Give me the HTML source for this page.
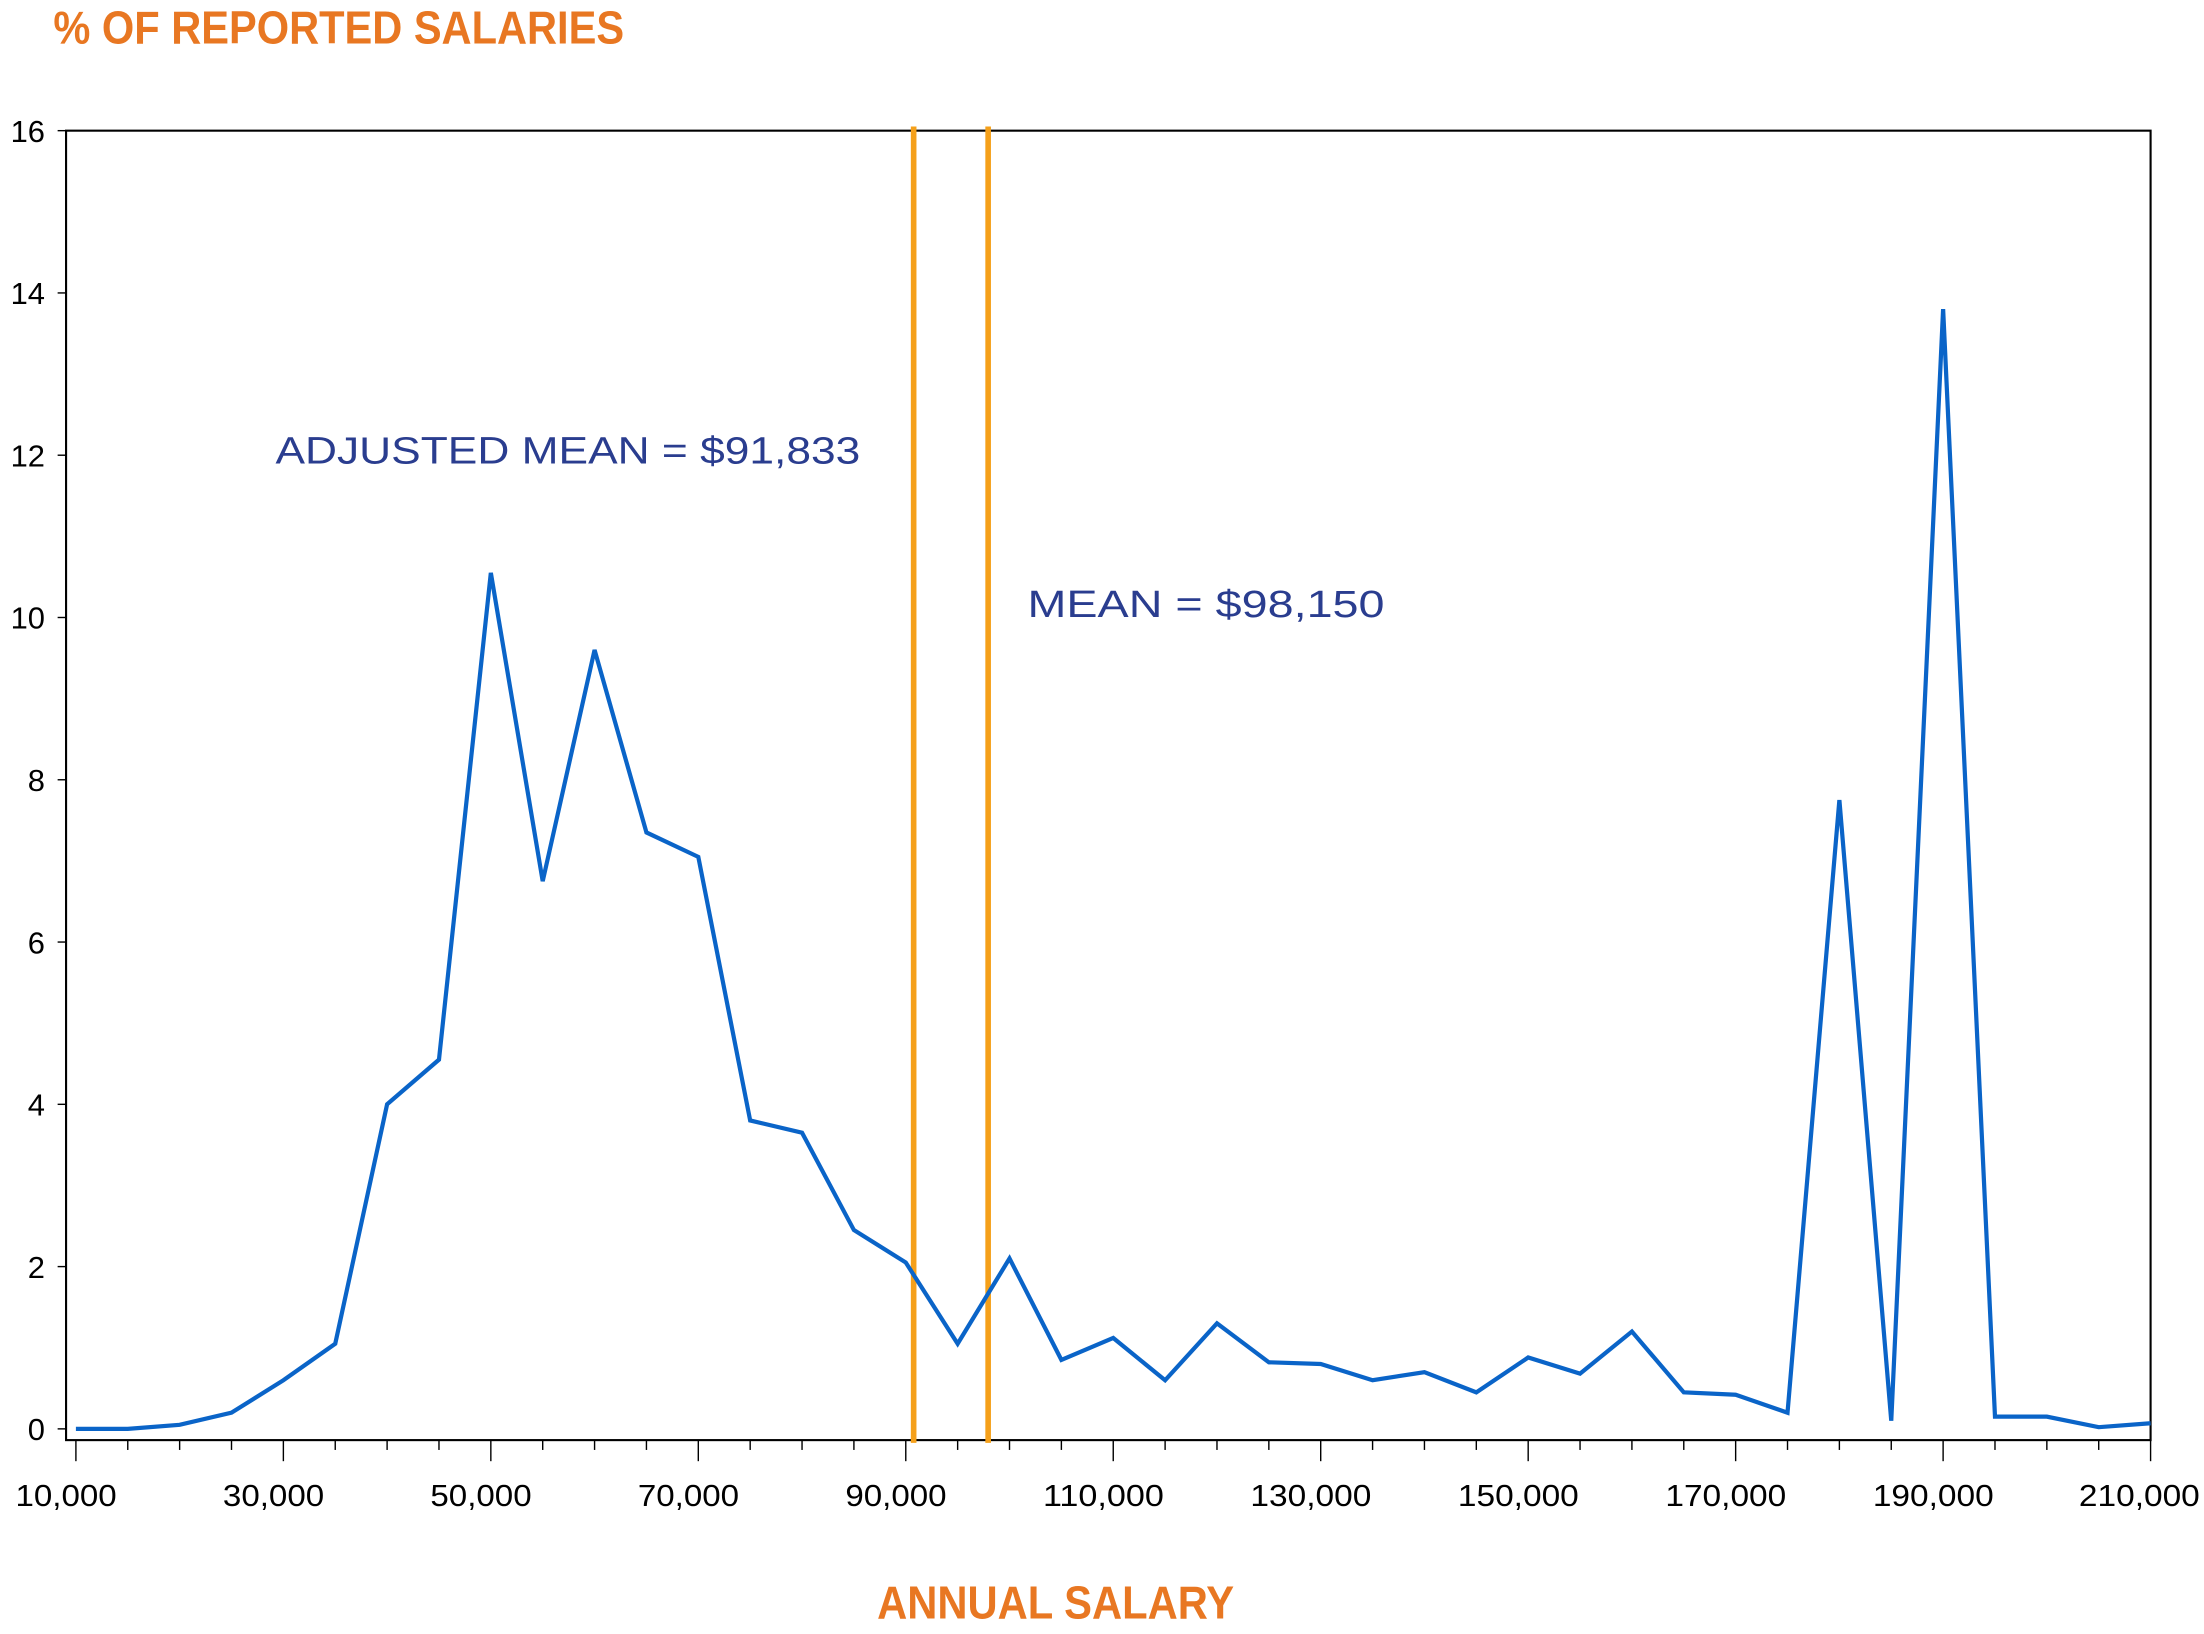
<!DOCTYPE html>
<html><head><meta charset="utf-8"><style>html,body{margin:0;padding:0;background:#fff}svg{display:block}</style></head>
<body>
<svg width="2204" height="1634" viewBox="0 0 1568 1163" preserveAspectRatio="none" xmlns="http://www.w3.org/2000/svg">
<rect width="1568" height="1163" fill="#fff"/>
<text x="38" y="31" font-family="Liberation Sans, sans-serif" font-weight="bold" font-size="33" fill="#e87722" textLength="406" lengthAdjust="spacingAndGlyphs">% OF REPORTED SALARIES</text>
<text x="624" y="1152" font-family="Liberation Sans, sans-serif" font-weight="bold" font-size="33" fill="#e87722" textLength="254" lengthAdjust="spacingAndGlyphs">ANNUAL SALARY</text>
<rect x="47" y="93" width="1483" height="932" fill="none" stroke="#000" stroke-width="1.5"/>
<g id="ax" font-family="Liberation Sans, sans-serif" font-size="22" fill="#000"></g>
<line x1="650" y1="90" x2="650" y2="1027" stroke="#f5a01a" stroke-width="4"/>
<line x1="703" y1="90" x2="703" y2="1027" stroke="#f5a01a" stroke-width="4"/>
<polyline id="pl" fill="none" stroke="#0a64c8" stroke-width="3" stroke-linejoin="miter"/>
<text x="196" y="330" font-family="Liberation Sans, sans-serif" font-size="27" fill="#2a3d8f" textLength="416" lengthAdjust="spacingAndGlyphs">ADJUSTED MEAN = $91,833</text>
<text x="731" y="439" font-family="Liberation Sans, sans-serif" font-size="27" fill="#2a3d8f" textLength="254" lengthAdjust="spacingAndGlyphs">MEAN = $98,150</text>
</svg>
<script>
var d=[0,0,0.05,0.2,0.6,1.05,4,4.55,10.55,6.75,9.6,7.35,7.05,3.8,3.65,2.45,2.05,1.05,2.1,0.85,1.12,0.6,1.3,0.82,0.8,0.6,0.7,0.45,0.88,0.68,1.2,0.45,0.42,0.2,7.75,0.1,13.8,0.15,0.15,0.02,0.07];
function X(i){return 54+i*36.9}function Y(v){return 1017-v*57.75}
document.getElementById('pl').setAttribute('points',d.map(function(v,i){return X(i).toFixed(1)+','+Y(v).toFixed(1)}).join(' '));
var g=document.getElementById('ax'),s='';
for(var v=0;v<=16;v+=2){var y=Y(v);s+='<line x1="41" x2="47" y1="'+y+'" y2="'+y+'" stroke="#000"/><text x="32" y="'+(y+8)+'" text-anchor="end">'+v+'</text>';}
for(var i=0;i<=40;i++){var x=X(i),maj=i%4==0;s+='<line x1="'+x+'" x2="'+x+'" y1="1025" y2="'+(maj?1040:1032)+'" stroke="#000"/>';
if(maj){var lab=(10000+i*5000).toLocaleString('en-US');var w=lab.length>6?86:72;s+='<text x="'+(Math.min(x-7,1522)-w/2)+'" y="1072" textLength="'+w+'" lengthAdjust="spacingAndGlyphs">'+lab+'</text>';}}
g.innerHTML=s;
</script>
</body></html>
